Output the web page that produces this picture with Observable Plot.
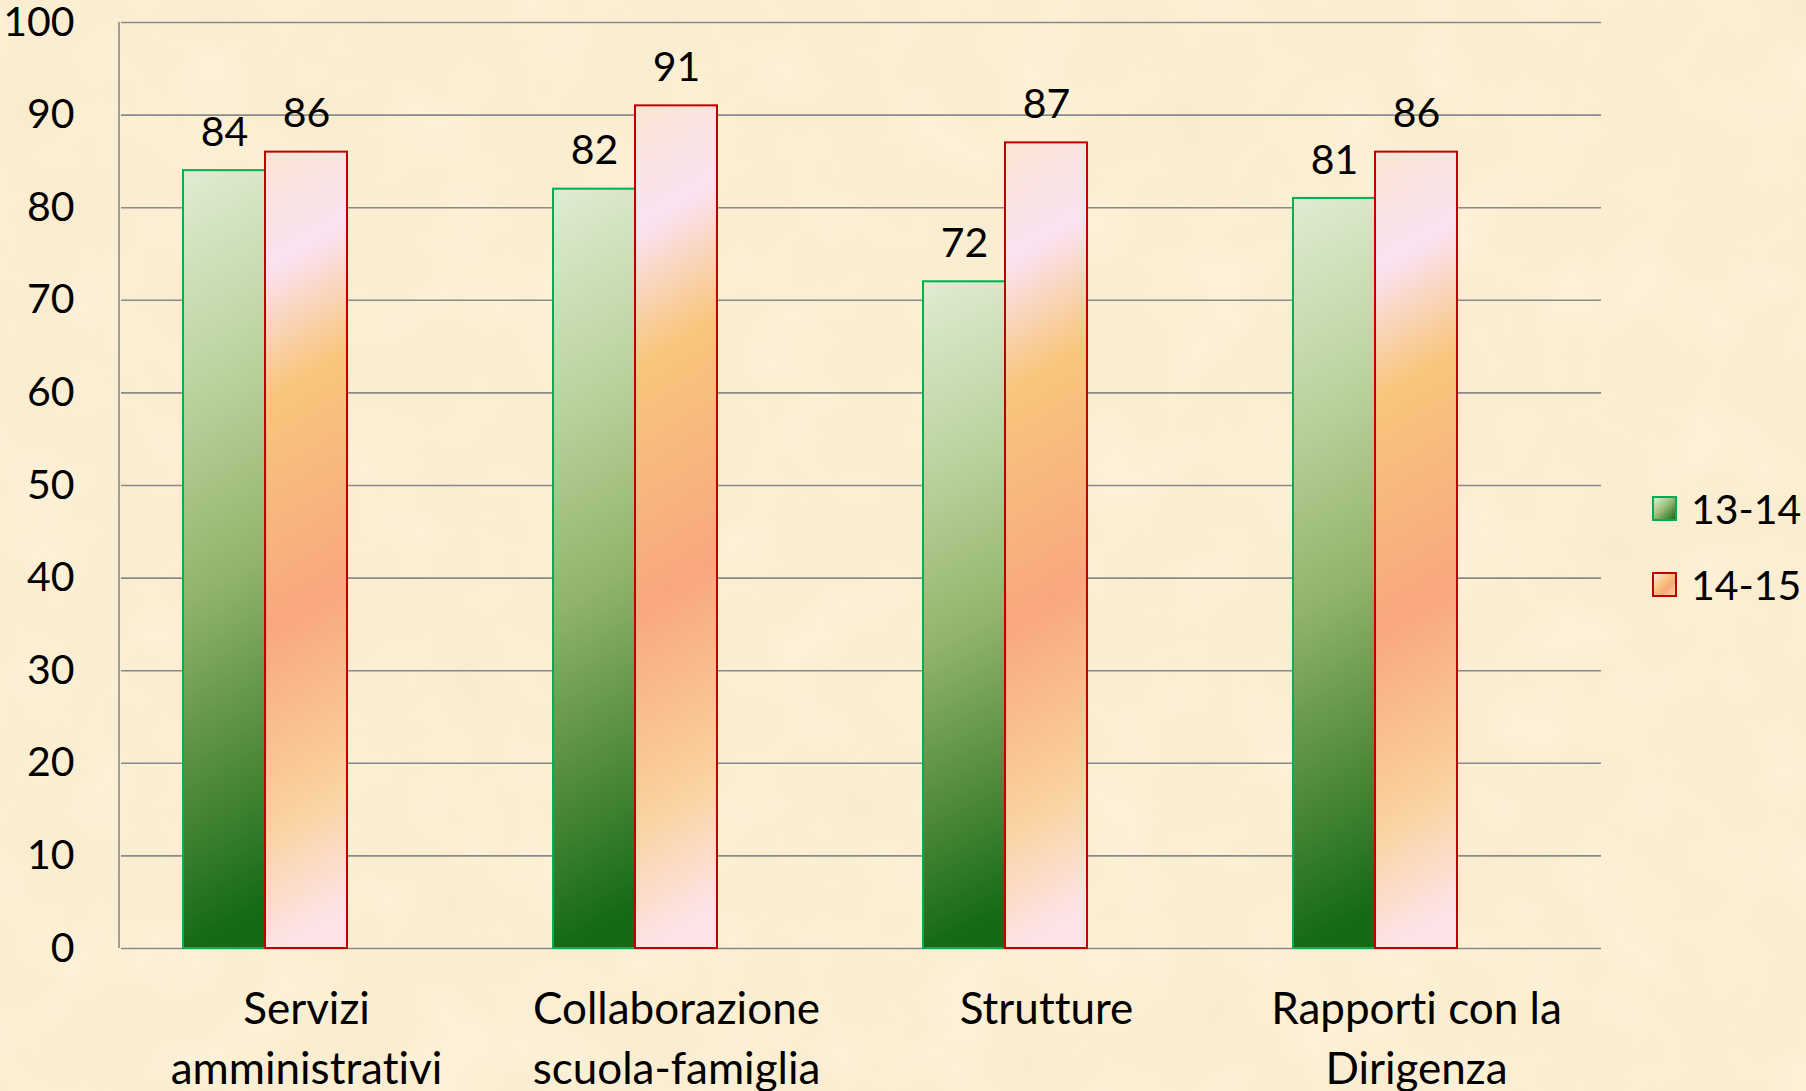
<!DOCTYPE html>
<html>
<head>
<meta charset="utf-8">
<script src="https://cdn.jsdelivr.net/npm/d3@7"></script>
<script src="https://cdn.jsdelivr.net/npm/@observablehq/plot@0.6"></script>
<style>
html, body { margin: 0; padding: 0; background: #fcf0d6; }
#wrap {
  position: relative; width: 1806px; height: 1091px; overflow: hidden;
  font-family: Lato, "Open Sans", sans-serif;
  font-variant-ligatures: none;
  background-color: #fcf0d6;
  background-image: url("data:image/svg+xml;utf8,<svg xmlns='http://www.w3.org/2000/svg' width='1806' height='1091'><filter id='n'><feTurbulence type='fractalNoise' baseFrequency='0.012' numOctaves='4' seed='3'/><feColorMatrix values='0 0 0 0 0.85  0 0 0 0 0.72  0 0 0 0 0.45  0 0 0 0.35 -0.08'/></filter><rect width='100%' height='100%' filter='url(%23n)'/></svg>");
}
#chart { position: absolute; left: 0; top: 0; }
#chart svg text { font-variant-ligatures: none; }
.leg { position: absolute; left: 1652px; height: 50px; display: flex; align-items: center; font-size: 41px; color: #000; }
.sw { width: 21px; height: 21px; margin-right: 14px; box-sizing: content-box; }
</style>
</head>
<body>
<div id="wrap"><div id="chart"></div></div>
<script>
// ---- data ----
const categories = ["Servizi\namministrativi", "Collaborazione\nscuola-famiglia", "Strutture", "Rapporti con la\nDirigenza"];
const seriesNames = ["13-14", "14-15"];
const values1314 = [84, 82, 72, 81];
const values1415 = [86, 91, 87, 86];
const yTicks = [0, 10, 20, 30, 40, 50, 60, 70, 80, 90, 100];

const rows1314 = categories.map((c, i) => ({cat: c, series: seriesNames[0], value: values1314[i]}));
const rows1415 = categories.map((c, i) => ({cat: c, series: seriesNames[1], value: values1415[i]}));
const rows = rows1314.concat(rows1415);

const FONT = 41;
const CAT_FONT = 44;
const plot = Plot.plot({
  width: 1640,
  height: 1091,
  marginTop: 22,
  marginBottom: 143,
  marginLeft: 119,
  marginRight: 38,
  style: {background: "transparent", fontFamily: "Lato, 'Open Sans', sans-serif", color: "#000", overflow: "visible"},
  fx: {domain: categories, padding: 0, axis: null, label: null},
  x: {domain: [...seriesNames, "(vuoto)"], paddingInner: 0, paddingOuter: 0.75, axis: null, label: null},
  y: {domain: [0, 100], label: null},
  marks: [
    Plot.gridY(yTicks, {stroke: "#8a8a8a", strokeOpacity: 1, strokeWidth: 1.6}),
    Plot.axisY(yTicks, {tickSize: 0, tickPadding: 47, fontSize: FONT, label: null, fill: "#000"}),
    Plot.barY(rows1314, {fx: "cat", x: "series", y: "value", fill: "url(#gGreen)", stroke: "#00b050", strokeWidth: 2}),
    Plot.barY(rows1415, {fx: "cat", x: "series", y: "value", fill: "url(#gRed)", stroke: "#c00000", strokeWidth: 2}),
    Plot.text(rows, {fx: "cat", x: "series", y: "value", text: d => String(d.value), dy: -38, lineAnchor: "middle", fontSize: FONT, fill: "#000"}),
    Plot.text(categories, {fx: d => d, text: d => d, frameAnchor: "bottom", lineAnchor: "top", dy: 33, lineHeight: 1.36, fontSize: CAT_FONT, fill: "#000"})
  ]
});

const s = d3.select(plot);
const defs = s.insert("defs", ":first-child");
function grad(id, stops) {
  const g = defs.append("linearGradient").attr("id", id)
    .attr("x1", 0).attr("y1", 0).attr("x2", 0.06).attr("y2", 1);
  stops.forEach(([o, c]) => g.append("stop").attr("offset", o).attr("stop-color", c));
}
grad("gGreen", [[0, "#dfecd3"], [0.3, "#b9d29c"], [0.55, "#93b46c"], [0.8, "#4f8a3c"], [1, "#156a16"]]);
grad("gRed", [[0, "#fae5d2"], [0.15, "#fbe2f2"], [0.31, "#f8c67c"], [0.6, "#f9a77e"], [0.85, "#fad39f"], [1, "#fde3e5"]]);

// vertical value-axis line
const y = plot.scale("y");
s.append("line")
  .attr("x1", 119).attr("x2", 119)
  .attr("y1", y.apply(100)).attr("y2", y.apply(0))
  .attr("stroke", "#8a8a8a").attr("stroke-width", 1.6);

document.getElementById("chart").appendChild(plot);

// legend
const wrap = document.getElementById("wrap");
const swatch = {
  "13-14": {bg: "linear-gradient(135deg, #dfecd3 0%, #a3be7c 45%, #156a16 100%)", border: "#00b050"},
  "14-15": {bg: "linear-gradient(135deg, #fbe2f2 0%, #f8c67c 40%, #f9a77e 65%, #fad39f 100%)", border: "#c00000"}
};
const legendCenters = [508, 584];
seriesNames.forEach((name, i) => {
  const item = document.createElement("div");
  item.className = "leg";
  item.style.top = (legendCenters[i] - 25) + "px";
  const sw = document.createElement("div");
  sw.className = "sw";
  sw.style.background = swatch[name].bg;
  sw.style.border = "2px solid " + swatch[name].border;
  const t = document.createElement("span");
  t.textContent = name;
  item.appendChild(sw);
  item.appendChild(t);
  wrap.appendChild(item);
});
</script>
</body>
</html>
